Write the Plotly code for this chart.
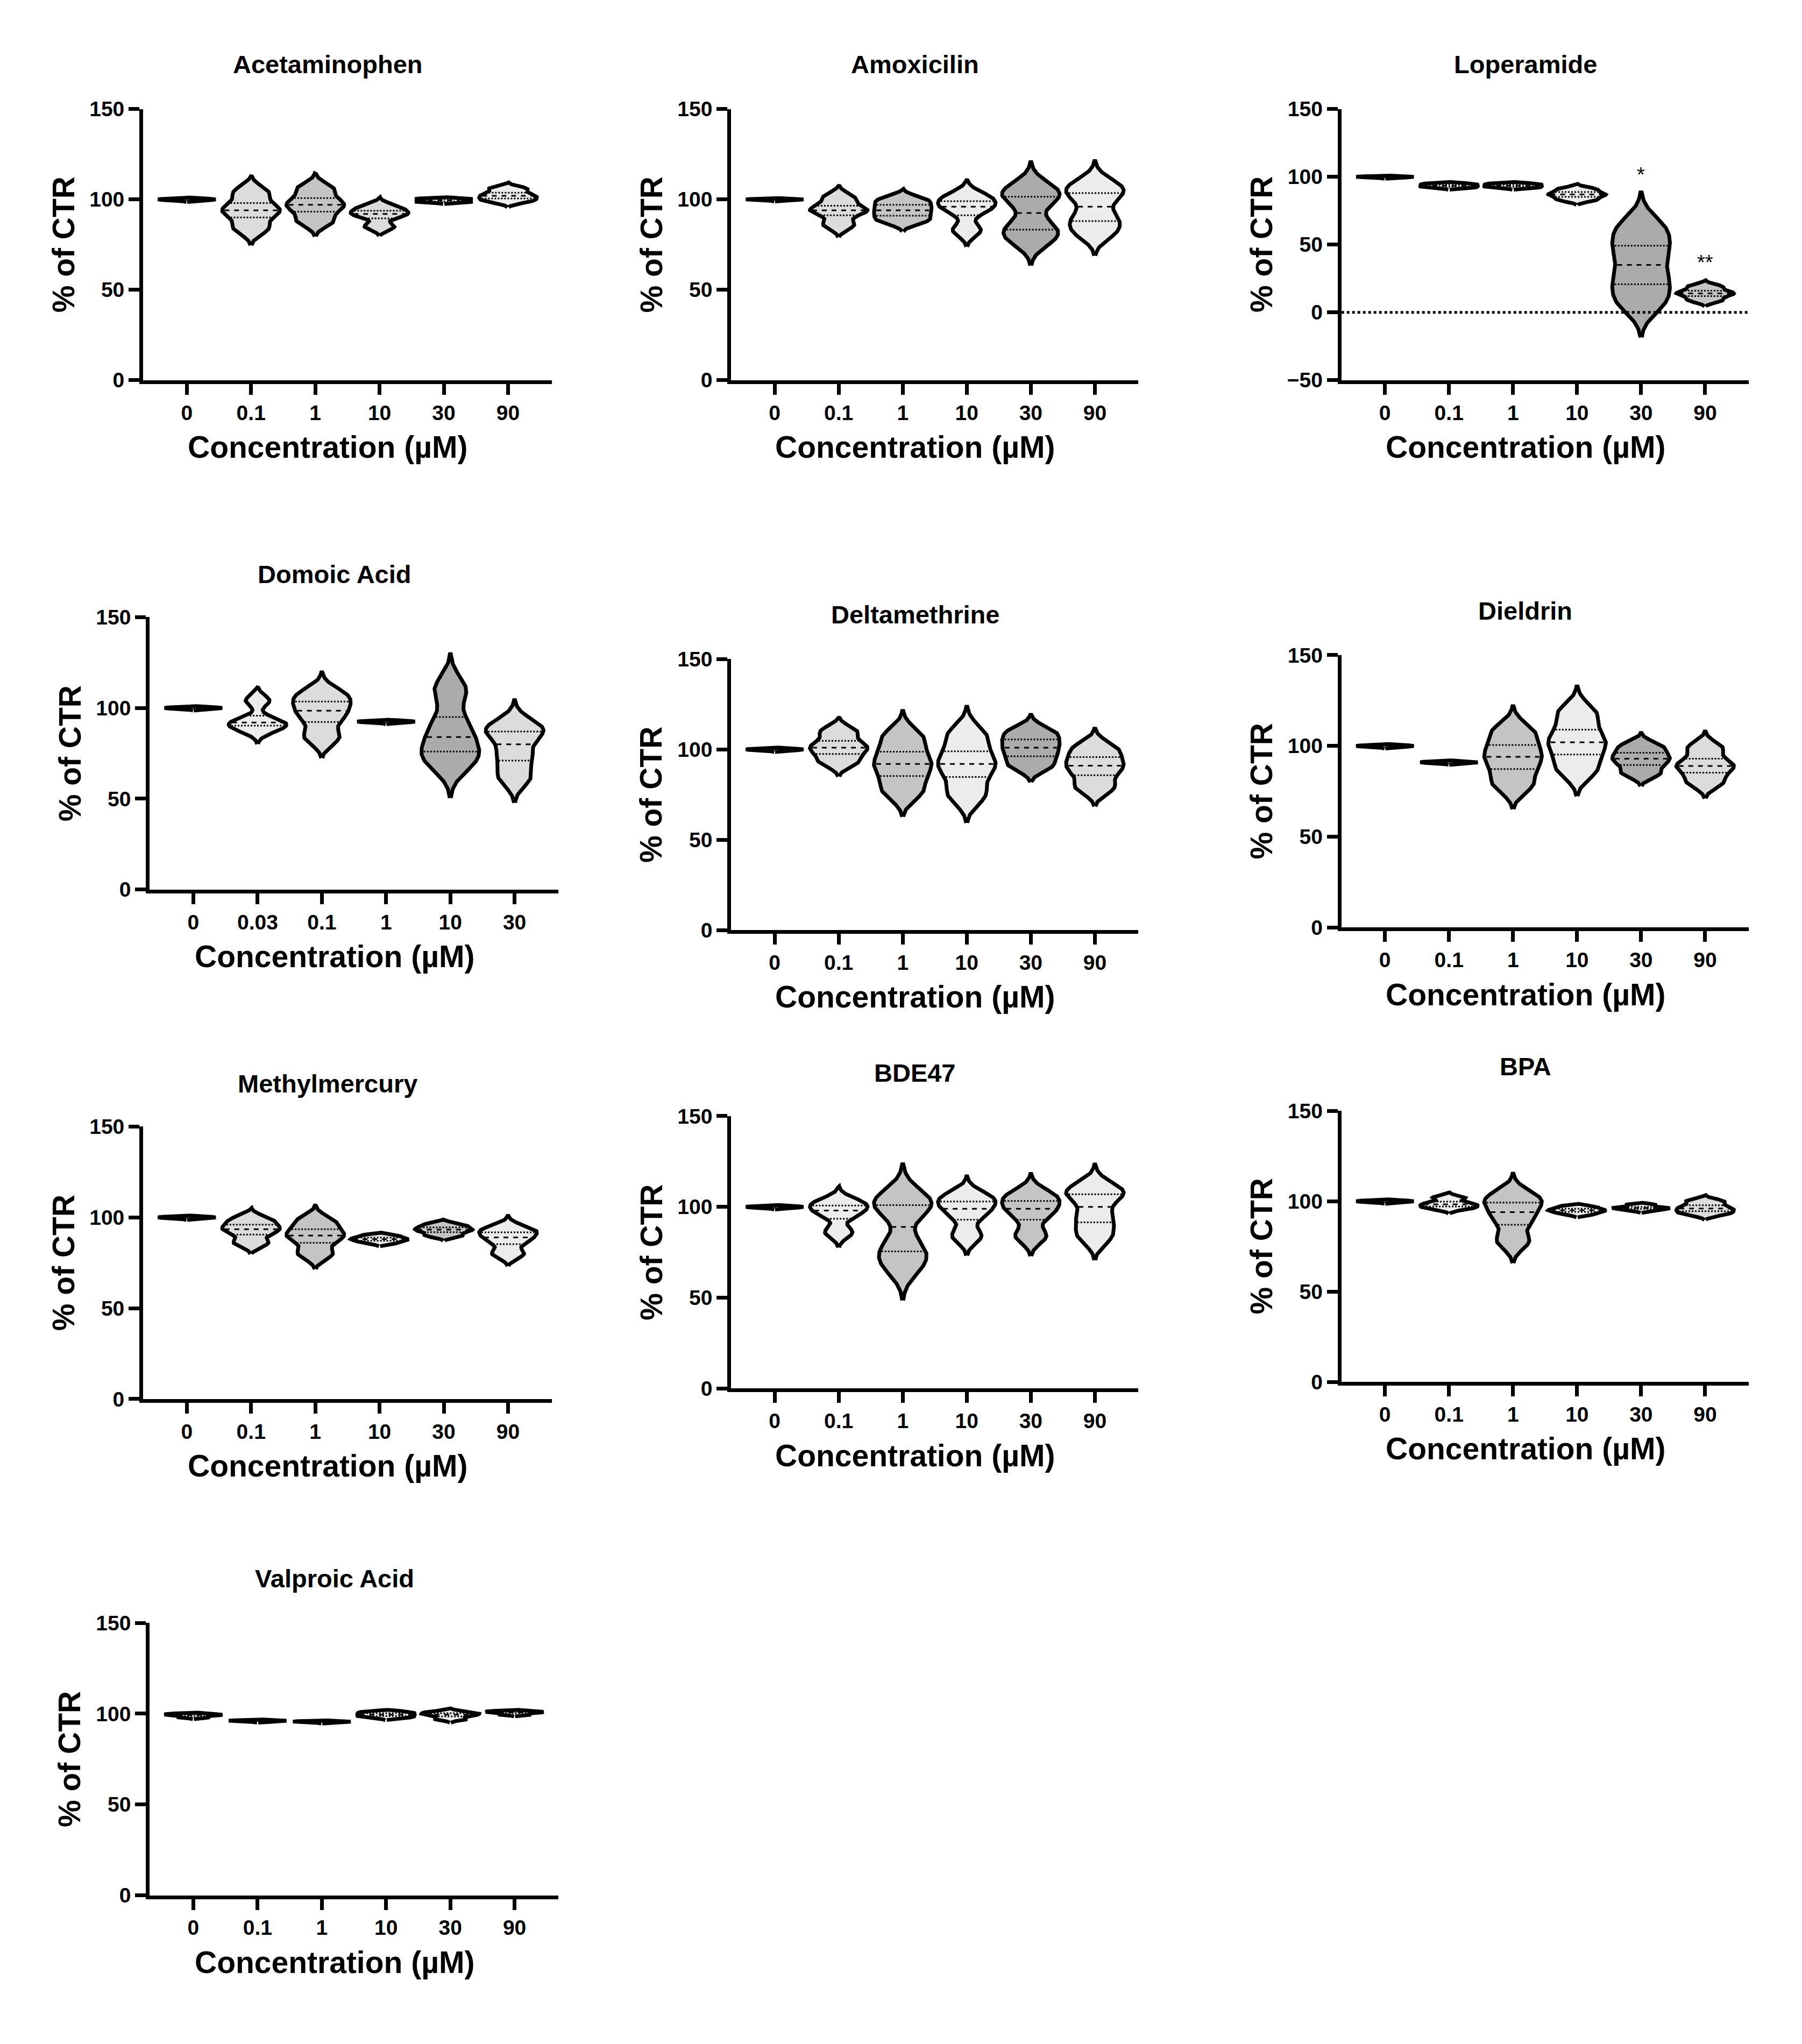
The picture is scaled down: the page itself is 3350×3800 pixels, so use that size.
import numpy as np
import plotly.graph_objects as go

W, H = 3350, 3800
S = 3350 / 1376  # reference drawn at ~1376 px wide

conc6 = ["0", "0.1", "1", "10", "30", "90"]
conc_domoic = ["0", "0.03", "0.1", "1", "10", "30"]

acetaminophen = [[99.5, 100, 100.5, 100], [84, 92, 96, 104], [88, 95, 99, 106],
                 [85, 91, 93, 96], [98.5, 99, 100, 100.5], [99, 101, 103, 106]]
amoxicilin = [[99.8, 100, 100.2, 100], [86, 93, 95, 101], [88, 92, 96, 100],
              [83, 94, 98, 102], [78, 85, 100, 106], [82, 90, 102, 108]]
loperamide = [[99.5, 100, 100.5, 100], [92, 93, 94, 95], [92, 93, 94, 95],
              [83, 86, 88, 91], [8, 25, 45, 62], [9, 13, 15, 19]]
domoic = [[99.5, 100, 100.5, 100], [88, 91, 93, 104], [84, 95, 102, 108],
          [92, 92.5, 93, 92.5], [70, 78, 90, 110], [62, 74, 86, 90]]
deltamethrine = [[99.5, 100, 100.5, 100], [93, 99, 103, 110], [77, 88, 96, 107],
                 [75, 88, 96, 108], [91, 98, 104, 110], [79, 88, 94, 101]]
dieldrin = [[99.5, 100, 100.5, 100], [90.5, 91, 91, 91.5], [79, 90, 98, 108],
            [87, 98, 106, 118], [85, 91, 95, 100], [80, 87, 91, 99]]
methylmercury = [[99.5, 100, 100.5, 100], [86, 92, 95, 99], [80, 88, 92, 98],
                 [86, 87.5, 88.5, 90], [90, 92.5, 94, 96], [80, 87, 91, 94]]
bde47 = [[99.5, 100, 100.5, 100], [86, 96, 100, 103], [68, 78, 100, 104],
         [84, 96, 102, 106], [84, 96, 102, 107], [84, 94, 106, 110]]
bpa = [[99.5, 100, 100.5, 100], [96, 97.5, 99, 102], [78, 90, 98, 103],
       [93, 94.5, 95.5, 97], [95, 96, 96.5, 98], [93, 95, 97, 100]]
valproic = [[98, 99, 99.5, 100], [96, 96, 96.3, 96.2], [95.5, 95.7, 95.8, 95.6],
            [98, 99, 100, 101], [97, 99, 100, 101], [99.5, 100.5, 101, 101.5]]

WH, L1, L2, D1, D2 = "#ffffff", "#ececec", "#dcdcdc", "#c4c4c4", "#ababab"

# name, categories, data, fills, y range, box (left, right, top, bottom) in reference px, title y
panels = [
    ("Acetaminophen", conc6, acetaminophen, [WH, L2, D1, L2, L1, L1], (0, 150), (106, 418, 80, 287), 46),
    ("Amoxicilin", conc6, amoxicilin, [WH, L2, D1, L1, D2, L1], (0, 150), (555, 866, 80, 287), 46),
    ("Loperamide", conc6, loperamide, [WH, L1, L1, L1, D2, D1], (-50, 150), (1021, 1332, 80, 287), 46),
    ("Domoic Acid", conc_domoic, domoic, [WH, L1, L2, L1, D2, L2], (0, 150), (111, 423, 468, 676), 435),
    ("Deltamethrine", conc6, deltamethrine, [WH, L2, D1, L1, D2, L2], (0, 150), (555, 866, 500, 707), 466),
    ("Dieldrin", conc6, dieldrin, [WH, L1, D1, L1, D2, L2], (0, 150), (1021, 1332, 497, 705), 463),
    ("Methylmercury", conc6, methylmercury, [WH, L2, D1, L1, D1, L1], (0, 150), (106, 418, 857, 1065), 824),
    ("BDE47", conc6, bde47, [WH, L1, D1, L1, D1, L1], (0, 150), (555, 866, 849, 1057), 816),
    ("BPA", conc6, bpa, [WH, L1, D1, L1, L1, L2], (0, 150), (1021, 1332, 845, 1052), 811),
    ("Valproic Acid", conc6, valproic, [WH, L1, L1, L1, L1, L1], (0, 150), (111, 423, 1236, 1444), 1202),
]

FONT = "Liberation Sans"
HALF = 0.45


def px(x):
    return x / (W / S)


def py(y):
    return 1 - y / (H / S)


def kde(vals):
    v = np.asarray(vals, float)
    h = max(0.5 * v.std(), 0.35)
    ys = np.linspace(v.min() - 2.6 * h, v.max() + 2.6 * h, 200)
    d = np.exp(-0.5 * ((ys[:, None] - v[None, :]) / h) ** 2).sum(axis=1)
    return ys, d / d.max(), h


fig = go.Figure()
annotations = []
for k, (name, cats, data, fills, yr, box, ty) in enumerate(panels):
    n = "" if k == 0 else str(k + 1)
    xa, ya = "x" + n, "y" + n
    l, r, t, b = box
    fig.layout["xaxis" + n] = dict(
        domain=[px(l), px(r)], range=[-0.68, 5.68], anchor=ya, automargin=False,
        tickvals=list(range(6)), ticktext=cats, showline=True, linewidth=7,
        linecolor="black", ticks="outside", ticklen=20, tickwidth=7,
        tickcolor="black", showgrid=False, zeroline=False,
        tickfont=dict(family=FONT, size=39, color="black", weight="bold"))
    fig.layout["yaxis" + n] = dict(
        domain=[py(b), py(t)], range=list(yr), anchor=xa, automargin=False,
        dtick=50, showline=True, linewidth=7, linecolor="black",
        ticks="outside", ticklen=20, tickwidth=7, tickcolor="black",
        showgrid=False, zeroline=False, tickformat="d",
        tickfont=dict(family=FONT, size=39, color="black", weight="bold"))
    for i, vals in enumerate(data):
        ys, d, h = kde(vals)
        xs = np.concatenate([i - HALF * d, (i + HALF * d)[::-1]])
        yy = np.concatenate([ys, ys[::-1]])
        fig.add_trace(go.Scatter(x=xs, y=yy, fill="toself", fillcolor=fills[i],
                                 mode="lines", line=dict(color="black", width=7),
                                 xaxis=xa, yaxis=ya, showlegend=False, hoverinfo="skip"))
        for q, dash in ((25, "dot"), (50, "dash"), (75, "dot")):
            qv = np.percentile(vals, q)
            wq = HALF * np.interp(qv, ys, d) * 0.92
            fig.add_trace(go.Scatter(x=[i - wq, i + wq], y=[qv, qv], mode="lines",
                                     line=dict(color="black", width=3, dash=dash),
                                     xaxis=xa, yaxis=ya, showlegend=False, hoverinfo="skip"))
    if yr[0] < 0:
        fig.add_trace(go.Scatter(x=[-0.68, 5.68], y=[0, 0], mode="lines",
                                 line=dict(color="black", width=5, dash="dot"),
                                 xaxis=xa, yaxis=ya, showlegend=False, hoverinfo="skip"))
        for i, star in ((4, "*"), (5, "**")):
            top = max(data[i]) + 2.6 * max(0.5 * np.std(data[i]), 0.35)
            annotations.append(dict(x=i, y=top + 4, xref=xa, yref=ya, text=star,
                                    showarrow=False, yanchor="bottom", xanchor="center",
                                    font=dict(family=FONT, size=38, color="black")))
    cx = (l + r) / 2
    annotations.append(dict(x=px(cx - 15), y=py(ty), xref="paper", yref="paper",
                            text="<b>%s</b>" % name, showarrow=False,
                            xanchor="center", yanchor="middle",
                            font=dict(family=FONT, size=47, color="black")))
    annotations.append(dict(x=px(cx - 15), y=py(b + 51), xref="paper", yref="paper",
                            text="<b>Concentration (µM)</b>", showarrow=False,
                            xanchor="center", yanchor="middle",
                            font=dict(family=FONT, size=57, color="black")))
    annotations.append(dict(x=px(l - 61), y=py((t + b) / 2), xref="paper", yref="paper",
                            text="<b>% of CTR</b>", showarrow=False, textangle=-90,
                            xanchor="center", yanchor="middle",
                            font=dict(family=FONT, size=57, color="black")))

fig.update_layout(width=W, height=H, paper_bgcolor="white", plot_bgcolor="white",
                  margin=dict(l=0, r=0, t=0, b=0), annotations=annotations)
fig.write_html("out.html")
